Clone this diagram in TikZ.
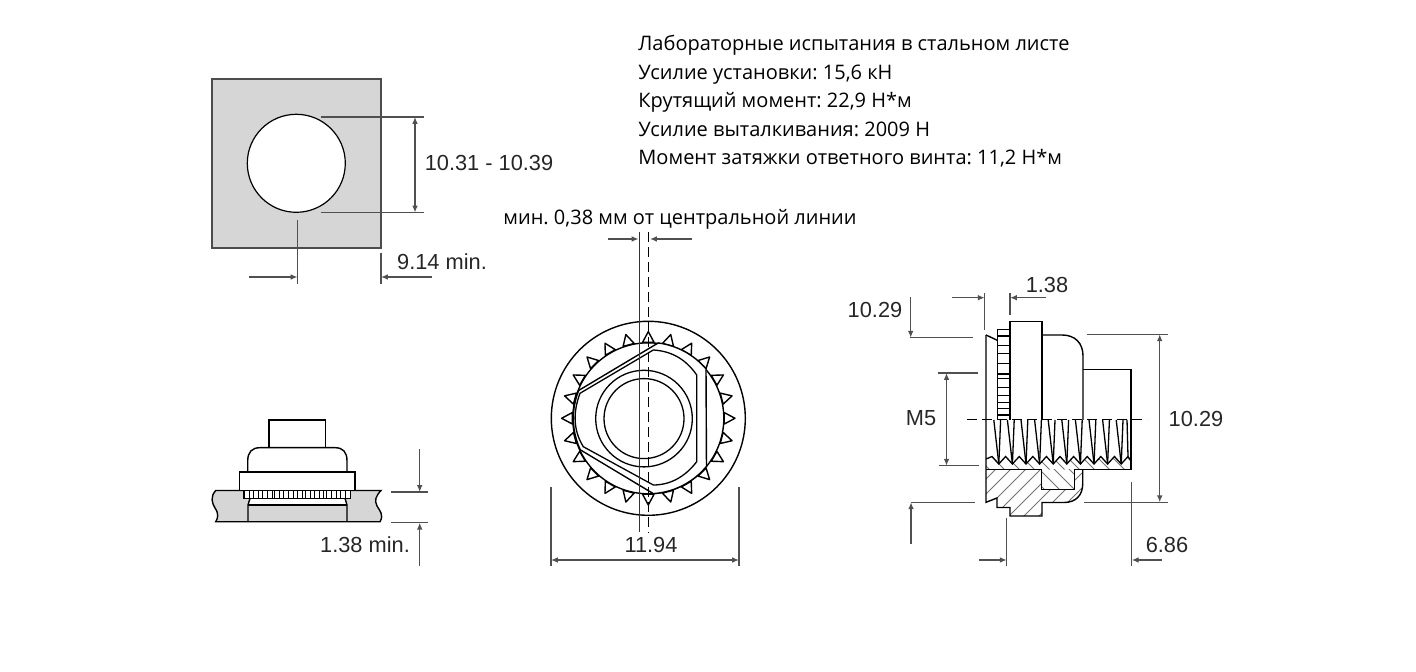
\documentclass[tikz,border=0pt]{standalone}
\usepackage{fontspec}
\setmainfont{Liberation Sans}
\newfontfamily\ruf{Open Sans}
\usetikzlibrary{arrows.meta}
\definecolor{dimc}{HTML}{505050}
\definecolor{sheet}{HTML}{D6D6D6}
\tikzset{
  part/.style={draw=black,line width=0.7pt,line join=miter},
  thinp/.style={draw=black,line width=0.65pt},
  dim/.style={draw=dimc,line width=0.65pt},
  arr/.style={dim,-{Latex[length=3.4pt,width=2.8pt]}},
  arrb/.style={dim,{Latex[length=3.4pt,width=2.8pt]}-{Latex[length=3.4pt,width=2.8pt]}},
  hat/.style={draw=black!55,line width=0.4pt},
  dsh/.style={draw=black,line width=0.7pt,dash pattern=on 5pt off 2.5pt},
  lab/.style={inner sep=0pt,font=\frenchspacing\fontsize{10.9}{13}\selectfont,text=black!85},
  rulab/.style={inner sep=0pt,anchor=base west,font=\frenchspacing\ruf\fontsize{10}{12}\selectfont,text=black}
}
\begin{document}
\begin{tikzpicture}[x=0.5pt,y=-0.5pt]
\useasboundingbox (0,0) rectangle (1416,672);
% --- top text
\node[rulab] (t1) at (638,51) {Лабораторные испытания в стальном листе};
\node[rulab] (t2) at (638,80) {Усилие установки: 15,6 кН};
\node[rulab] (t3) at (638,108) {Крутящий момент: 22,9 Н*м};
\node[rulab] (t4) at (638,137) {Усилие выталкивания: 2009 Н};
\node[rulab] (t5) at (638,165) {Момент затяжки ответного винта: 11,2 Н*м};
\node[rulab] (t6) at (503,225) {мин. 0,38 мм от центральной линии};
% --- hole view
\path[fill=sheet,draw=black!70,line width=0.7pt] (212,79) rectangle (381,248);
\path[fill=white,draw=black,line width=0.6pt] (296.3,163.3) circle[radius=49];
\draw[dim] (321,117) -- (424,117);
\draw[dim] (321,212.5) -- (424,212.5);
\draw[arrb] (415,117) -- (415,212.5);
\draw[dim] (297.5,220) -- (297.5,284);
\draw[dim] (381,253) -- (381,284);
\draw[arr] (249,277) -- (297.5,277);
\draw[arr] (432,277) -- (381,277);
\node[lab] (a1) at (489,163) {10.31 - 10.39};
\node[lab] (a2) at (442,262) {9.14 min.};
% --- installed view
\path[fill=sheet] (215.7,490.5) .. controls (210,497) and (212,503) .. (215,508) .. controls (219,514) and (218,518) .. (215.7,521.7) -- (380,521.7) .. controls (384,515) and (380,511) .. (377,506) .. controls (374,500) and (376,496) .. (381,490.5) -- cycle;
\draw[part] (215.7,490.5) .. controls (210,497) and (212,503) .. (215,508) .. controls (219,514) and (218,518) .. (215.7,521.7) -- (380,521.7) .. controls (384,515) and (380,511) .. (377,506) .. controls (374,500) and (376,496) .. (381,490.5) -- cycle;
\path[fill=white] (250,498.3) -- (248,505) -- (347,505) -- (345,498.3) -- cycle;
\draw[part] (250,498.3) -- (248,505) -- (248,521.7);
\draw[part] (345,498.3) -- (347,505) -- (347,521.7);
\draw[part] (248,505) -- (347,505);
\path[part,fill=white] (244,490.5) rectangle (350.3,498.3);
\foreach \x in {249,253,258,262,267,272,274,279,283,288,293,297,302,305,310,314,319,323,326,331,336,340,345}
  \draw[thinp,line width=0.5pt] (\x,490.5) -- (\x,498.3);
\path[part,fill=white] (239.3,472) rectangle (355,490.5);
\draw[part] (247.7,472) -- (247.7,461) .. controls (247.7,452) and (252,447.7) .. (260,447.7) -- (335,447.7) .. controls (343,447.7) and (347,452) .. (347,461) -- (347,472);
\draw[part] (269,447.7) -- (269,420) -- (325.7,420) -- (325.7,447.7);
\draw[dim] (391,492) -- (428,492);
\draw[dim] (391,522.7) -- (428,522.7);
\draw[arr] (419.7,449.3) -- (419.7,492);
\draw[arr] (419.7,566) -- (419.7,522.7);
\node[lab] (b1) at (365,545) {1.38 min.};
% --- end view
\draw[part] (648.3,418.3) circle[radius=97];
\draw[part] (648.3,418.3) circle[radius=75.5];
\foreach \a in {0,15,...,345}
  \draw[part,fill=white,line join=round] ({648.3+76.2*cos(\a-4.3)},{418.3+76.2*sin(\a-4.3)}) -- ({648.3+86.7*cos(\a)},{418.3+86.7*sin(\a)}) -- ({648.3+76.2*cos(\a+4.3)},{418.3+76.2*sin(\a+4.3)}) -- cycle;
\draw[part,fill=white] plot[domain=201.8:155.2,samples=12] ({648.3+75*cos(\x)},{418.3+75*sin(\x)})
  -- plot[domain=86.2:39.6,samples=12] ({648.3+75.5*cos(\x)},{418.3+75.5*sin(\x)})
  -- plot[domain=-40.6:-82.5,samples=12] ({648.3+76*cos(\x)},{418.3+76*sin(\x)}) -- cycle;
\draw[thinp] (653.3,350) -- (580,393.3) .. controls (573,412) and (573,430) .. (583.3,446.7) -- (653.3,485) .. controls (670,485) and (685,477) .. (696.7,461.7) -- (696.7,375) .. controls (685,358) and (670,351) .. (653.3,350) -- cycle;
\draw[thinp] (644,418.6) circle[radius=48.3];
\draw[thinp] (644,418.6) circle[radius=40];
\draw[thinp,draw=black!80] (639.7,232) -- (639.7,532);
\draw[dsh] (648.3,232) -- (648.3,533);
\draw[arr] (608,239) -- (638.5,239);
\draw[arr] (692,239) -- (650,239);
\draw[dim] (551,487) -- (551,566);
\draw[dim] (739,487) -- (739,566);
\draw[arrb] (551,560) -- (739,560);
\node[lab] (c1) at (651,544.5) {11.94};
% --- side view: threads
\begin{scope}
\clip (986,469.7) -- (986,459) -- (992,456.5) \foreach \k in {0,...,10} { -- ({992+13.6*\k},456.5) -- ({998.8+13.6*\k},464) } -- (1131,458) -- (1131,469.7) -- cycle;
\foreach \x in {950,965,...,1130} \draw[hat] (\x,445) -- ({\x+40},485);
\end{scope}
\begin{scope}
\clip (1041.7,469.7) rectangle (1074.3,489.3);
\foreach \x in {985,1000,...,1075} \draw[hat] (\x,445) -- ({\x+50},495);
\end{scope}
\begin{scope}
\clip (986,469.7) -- (1041.7,469.7) -- (1041.7,489.3) -- (1074.3,489.3) -- (1074.3,469.7) -- (1082.7,469.7) -- (1082.7,484) .. controls (1082.7,495) and (1076,502.5) .. (1064,502.5) -- (1042,502.5) -- (1042,516) -- (1010,516) -- (1010,507.5) -- (997,507.5) -- (997,498) -- (986,502.3) -- cycle;
\foreach \x in {985,1000,...,1135} \draw[hat] (\x,465) -- ({\x-55},520);
\end{scope}
\foreach \k in {0,...,9} {
  \draw[thinp] ({998.8+13.6*\k},464) -- ({993.8+13.6*\k},420);
  \draw[thinp] ({998.8+13.6*\k},464) -- ({1000.6+13.6*\k},420);
}
\draw[thinp] (1128,456.5) -- (1127,420);
\draw[thinp] (986,459) -- (992,456.5) \foreach \k in {0,...,9} { -- ({998.8+13.6*\k},464) -- ({1005.6+13.6*\k},456.5) } -- (1131,461);
% --- side view: outline
\draw[part] (986,335) -- (997.3,340.3);
\draw[part] (997.3,420) -- (997.3,329.7) -- (1010,329.7);
\draw[part] (1010,420) -- (1010,321.3) -- (1042,321.3) -- (1042,420);
\foreach \y in {336,345.7,353.3,363.7,374,378.3,387.3,395.7,402.3,408.3,415}
  \draw[thinp] (997.3,\y) -- (1010,\y);
\draw[part] (1042,335) -- (1062,335) .. controls (1075,335) and (1083,343) .. (1083,356) -- (1083,420);
\draw[part] (1083,369.7) -- (1131,369.7) -- (1131,469.7) -- (1074.3,469.7) -- (1074.3,489.3) -- (1041.7,489.3) -- (1041.7,469.7) -- (986,469.7);
\draw[part] (986,335) -- (986,502.3) -- (997,498) -- (997,507.5) -- (1010,507.5) -- (1010,516) -- (1042,516) -- (1042,502.5) -- (1064,502.5) .. controls (1076,502.5) and (1082.7,495) .. (1082.7,484) -- (1082.7,469.7);
\draw[dsh] (967,419.7) -- (1147,419.7);
% --- side view: dimensions
\draw[dim] (984.7,293) -- (984.7,330);
\draw[dim] (1010,293) -- (1010,315);
\draw[arr] (951.7,297.7) -- (984.7,297.7);
\draw[arr] (1045.7,297.7) -- (1010,297.7);
\node[lab] (d1) at (1047,284.5) {1.38};
\node[lab] (d2) at (875,309.5) {10.29};
\draw[dim] (910,337.7) -- (973,337.7);
\draw[arr] (910.7,296.7) -- (910.7,337.7);
\draw[dim] (911,502.3) -- (975,502.3);
\draw[arr] (911,544) -- (911,502.3);
\draw[dim] (937.7,373) -- (977.7,373);
\draw[dim] (939,465.7) -- (979,465.7);
\draw[arrb] (946.5,373) -- (946.5,465.7);
\node[lab] (d3) at (921,418.5) {M5};
\draw[dim] (1086.7,334.3) -- (1168,334.3);
\draw[dim] (1084,502.3) -- (1168,502.3);
\draw[arrb] (1159.7,334.3) -- (1159.7,502.3);
\node[lab] (d4) at (1196,418.5) {10.29};
\draw[dim] (1131.7,482) -- (1131.7,566);
\draw[dim] (1006.7,518) -- (1006.7,566);
\draw[arr] (979,560) -- (1006.7,560);
\draw[arr] (1161.7,560) -- (1131.7,560);
\node[lab] (d5) at (1167,544.5) {6.86};
\end{tikzpicture}
\end{document}
